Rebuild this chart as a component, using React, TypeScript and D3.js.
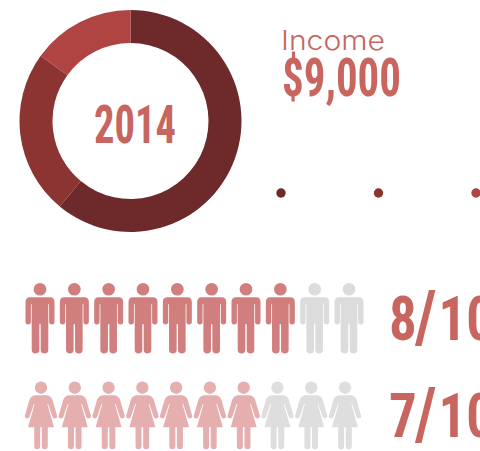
import React from "react";
import * as d3 from "d3";

const sliceNames = ["a", "b", "c"];
const sliceValues = [61, 24, 15];
const sliceColors = ["#6e2a2a", "#8b3432", "#b04443"];
const totalPeople = d3.range(10);
const menCount = 8;
const womenCount = 7;
const ratioLabels = [`${menCount}/10`, `${womenCount}/10`];

const TEXT = "#c8655f";
const narrow = "'Liberation Sans Narrow', 'Roboto Condensed', Roboto, sans-serif";

const manPath =
  "M-10,8 H10 Q14.5,8 14.5,13 V32.5 a2.7,2.7 0 0 1 -5.4,0 V15 H8.3 V60.5 a3.7,3.7 0 0 1 -7.6,0 V35 H-0.7 V60.5 a3.7,3.7 0 0 1 -7.6,0 V15 H-9.1 V32.5 a2.7,2.7 0 0 1 -5.4,0 V13 Q-14.5,8 -10,8 Z";

const womanPath =
  "M-6,7.5 H6 Q10,8 11.5,12 L16,27.5 a2.4,2.4 0 0 1 -4.6,1.6 L7,16 L6.4,16.5 L13,39.5 H6.8 V58.5 a3,3 0 0 1 -6,0 V39.5 H-0.8 V58.5 a3,3 0 0 1 -6,0 V39.5 H-13 L-6.4,16.5 L-7,16 L-11.4,29.1 a2.4,2.4 0 0 1 -4.6,-1.6 L-11.5,12 Q-10,8 -6,7.5 Z";

function Fitted(props: { x: number; y: number; w: number; size: number; children: string; font?: string; weight?: number; fill?: string }) {
  const { x, y, w, size, children, font = narrow, weight = 700, fill = TEXT } = props;
  return (
    <text x={x} y={y} fill={fill} fontFamily={font} fontWeight={weight} fontSize={size} textLength={w} lengthAdjust="spacingAndGlyphs">
      {children}
    </text>
  );
}

// big ratio label: narrowed glyphs, taller slash, loose spacing like the original
function Ratio({ y, label }: { y: number; label: string }) {
  const [num, den] = label.split("/");
  return (
    <text transform={`translate(389,${y}) scale(0.9,1)`} fill={TEXT} fontFamily={narrow} fontWeight={700} fontSize={61}>
      <tspan x={0}>{num}</tspan>
      <tspan x={29} fontSize={72} dy={2}>/</tspan>
      <tspan x={55} dy={-2}>{den}</tspan>
    </text>
  );
}

export default function App() {
  const pie = d3.pie<number>().sort(null)(sliceValues);
  const arc = d3.arc<d3.PieArcDatum<number>>().innerRadius(78).outerRadius(111);

  const xMen = d3.scaleLinear().domain([0, 9]).range([40, 349]);
  const xWomen = d3.scaleLinear().domain([0, 9]).range([41, 345]);
  const xDots = d3.scalePoint<string>().domain(sliceNames).range([281, 476]);

  return (
    <svg width={480} height={451} style={{ position: "absolute", left: 0, top: 0 }}>
      <g transform="translate(130.5,121)">
        {pie.map((d, i) => (
          <path key={i} d={arc(d) || ""} fill={sliceColors[i]} />
        ))}
      </g>
      <Fitted x={94} y={143} w={82} size={53}>2014</Fitted>

      <Fitted x={281} y={50} w={104} size={27} font="Inter, sans-serif" weight={300}>Income</Fitted>
      <Fitted x={282} y={96} w={119} size={54}>$9,000</Fitted>

      {sliceNames.map((n, i) => (
        <circle key={n} cx={xDots(n)} cy={193} r={4.7} fill={sliceColors[i]} />
      ))}

      {totalPeople.map((i) => (
        <g key={i} transform={`translate(${xMen(i)},289.3)`} fill={i < menCount ? "#d07e7e" : "#dcdcdc"}>
          <circle r={6.3} />
          <path d={manPath} />
        </g>
      ))}
      {totalPeople.map((i) => (
        <g key={i} transform={`translate(${xWomen(i)},387.7)`} fill={i < womenCount ? "#e5afaf" : "#dedede"}>
          <circle r={6.2} />
          <path d={womanPath} />
        </g>
      ))}

      <Ratio y={340} label={ratioLabels[0]} />
      <Ratio y={437} label={ratioLabels[1]} />
    </svg>
  );
}
